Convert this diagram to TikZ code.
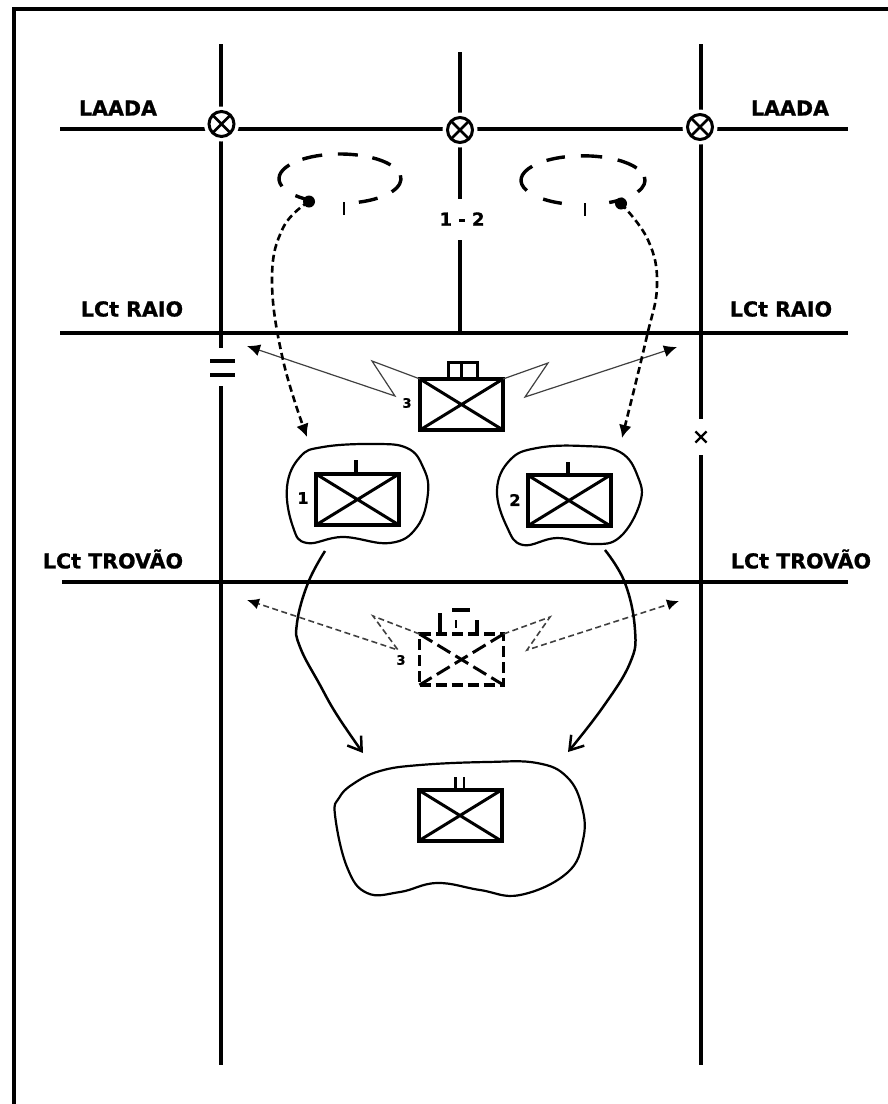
\documentclass[tikz,border=0pt]{standalone}
\usepackage{fontspec}
\setmainfont{DejaVu Sans}[BoldFeatures={FakeBold=0.9}]
\usetikzlibrary{arrows.meta,shapes.geometric,shapes.misc}
\tikzset{
  axis/.style={line width=3.8pt,black},
  halo/.style={circle,fill=white,minimum size=35pt,inner sep=0pt,outer sep=0pt},
  lim/.style={circle,draw,line width=3pt,minimum size=25pt,inner sep=0pt,outer sep=0pt,
    path picture={\draw[line width=2.8pt] (path picture bounding box.north west)--(path picture bounding box.south east)
      (path picture bounding box.north east)--(path picture bounding box.south west);}},
  lab/.style={font=\bfseries\fontsize{20.6}{20.6}\selectfont,inner sep=0pt},
  num/.style={font=\bfseries\fontsize{16}{16}\selectfont,inner sep=0pt},
  unitbox/.style={rectangle,draw,line width=4pt,minimum width=83pt,minimum height=51pt,inner sep=0pt,outer sep=0pt,
    path picture={\draw[line width=3pt] (path picture bounding box.north west)--(path picture bounding box.south east)
      (path picture bounding box.north east)--(path picture bounding box.south west);}},
  ghostbox/.style={rectangle,draw,line width=3.4pt,dash pattern=on 11pt off 5pt,minimum width=84pt,minimum height=51pt,inner sep=0pt,outer sep=0pt},
  ghostdiag/.style={line width=3pt,dash pattern=on 15pt off 6pt},
  blob/.style={line width=2.2pt},
  zone/.style={line width=3.4pt},
  dot/.style={circle,fill,inner sep=0pt,minimum size=12pt},
  tick/.style={line width=2.4pt},
  move/.style={line width=2.6pt,dash pattern=on 7pt off 4pt,-{Latex[length=13pt,width=13pt]}},
  bolt/.style={line width=1.2pt,black!75,-{Latex[length=13pt,width=12pt,black]}},
  ghostbolt/.style={line width=1.6pt,black!75,dash pattern=on 6pt off 3.5pt,-{Latex[length=12pt,width=11pt,black]}},
  advance/.style={line width=2.5pt,-{Straight Barb[length=13pt,width=17pt,line width=2.5pt]}},
}
\begin{document}
\begin{tikzpicture}[x=1pt,y=-1pt]
\useasboundingbox (0,0) rectangle (888,1104);
\draw[line width=4pt] (888,9)--(14,9)--(14,1104);

\coordinate (a1) at (221,44);
\coordinate (a2) at (221,348);
\coordinate (a3) at (221,386);
\coordinate (a4) at (221,1065);
\coordinate (b1) at (701,44);
\coordinate (b2) at (701,419);
\coordinate (b3) at (701,455);
\coordinate (b4) at (701,1065);
\coordinate (c1) at (460,52);
\coordinate (c2) at (460,199);
\coordinate (c3) at (460,240);
\coordinate (c4) at (460,332);
\coordinate (l1) at (60,129);
\coordinate (l2) at (848,129);
\coordinate (r1) at (60,333);
\coordinate (r2) at (848,333);
\coordinate (t1) at (62,582);
\coordinate (t2) at (848,582);

\draw[axis] (a1)--(a2) (a3)--(a4);
\draw[axis] (b1)--(b2) (b3)--(b4);
\draw[axis] (c1)--(c2) (c3)--(c4);
\draw[axis] (l1)--(l2);
\draw[axis] (r1)--(r2);
\draw[axis] (t1)--(t2);

% limit points
\node[halo] (h1) at (221.5,124) {};
\node[halo] (h2) at (460,130) {};
\node[halo] (h3) at (700,127) {};
\node[lim] (p1) at (h1) {};
\node[lim] (p2) at (h2) {};
\node[lim] (p3) at (h3) {};

% boundary breaks
\coordinate (e1) at (210,361);
\coordinate (e2) at (235,361);
\coordinate (e3) at (210,375);
\coordinate (e4) at (235,375);
\draw[line width=3.6pt] (e1)--(e2) (e3)--(e4);
\node[cross out,draw,line width=2.2pt,minimum size=9pt,inner sep=0pt] (xmark) at (701,437) {};

% labels
\node[lab] (la1) at (118,108) {LAADA};
\node[lab] (la2) at (790,108) {LAADA};
\node[lab] (lr1) at (132,309) {LCt RAIO};
\node[lab] (lr2) at (781,309) {LCt RAIO};
\node[lab] (lt1) at (113,559) {LCt TROVÃO};
\node[lab] (lt2) at (801,559) {LCt TROVÃO};
\node[font=\bfseries\fontsize{18}{18}\selectfont,inner sep=0pt] (n12) at (462,219) {1 - 2};

% assembly areas (dashed ellipses)
\foreach \a/\b in {146/198,128/107,92/73,58/34,8/-32,-52/-72,-120/-137}
  \draw[zone] ({340+61*cos(\a)},{178.7-24.7*sin(\a)})
    arc[start angle=-\a,end angle=-\b,x radius=61,y radius=24.7];
\foreach \a/\b in {145/205,230/250,126/107,92/72,56/30,8/-28,-65/-50}
  \draw[zone] ({583+62*cos(\a)},{180.3-24.5*sin(\a)})
    arc[start angle=-\a,end angle=-\b,x radius=62,y radius=24.5];
\node[dot] (d1) at (309,201.5) {};
\node[dot] (d2) at (621,203.5) {};
\coordinate (ti1) at (344,202);
\coordinate (ti2) at (344,215);
\coordinate (ti3) at (585,203);
\coordinate (ti4) at (585,216);
\draw[tick] (ti1)--(ti2) (ti3)--(ti4);

% unit 3
\node[unitbox] (u3) at (461.5,404.5) {};
\coordinate (u3a) at (448,377);
\coordinate (u3b) at (477,377);
\draw[line width=3pt] (u3a)--(448,362.5)--(477,362.5)--(u3b) (u3.north)--(461.5,364);

% unit 1, 2
\node[unitbox] (u1) at (357.5,499.5) {};
\node[unitbox] (u2) at (569,500.5) {};
\coordinate (u1t) at (356,460);
\coordinate (u2t) at (568,462);
\draw[line width=3.2pt] (u1t)--(u1.north-|u1t) (u2t)--(u2.north-|u2t);
\node[num] (n1) at (303,498) {1};
\node[num] (n2) at (515,500) {2};
\node[num,font=\bfseries\fontsize{13}{13}\selectfont] (n3) at (407,403) {3};

\draw[blob] plot[smooth cycle,tension=.7] coordinates {(287,487) (300,457) (323,447) (373,444) (407,448) (423,467) (428,493) (417,527) (390,543) (343,537) (307,543) (293,527)};
\draw[blob] plot[smooth cycle,tension=.7] coordinates {(497,490) (510,460) (537,448) (583,446) (620,452) (638,477) (640,503) (620,537) (593,544) (557,538) (523,545) (507,527)};

% ghost unit 3
\node[ghostbox] (g3) at (461.5,659.5) {};
\draw[ghostdiag] (g3.north west)--(g3.south east);
\draw[ghostdiag] (g3.north east)--(g3.south west);
\coordinate (g1) at (440,632);
\coordinate (g2) at (477,632);
\coordinate (g3a) at (456,620);
\coordinate (g3b) at (456,628);
\coordinate (g4a) at (452,610);
\coordinate (g4b) at (470,610);
\draw[line width=3.2pt] (g1)--(440,613) (g2)--(477,620) (g4a)--(g4b);
\draw[line width=2pt] (g3a)--(g3b);
\node[num,font=\bfseries\fontsize{13}{13}\selectfont] (n3b) at (401,660) {3};

% final unit
\node[unitbox] (u4) at (460,815.5) {};
\coordinate (u4a) at (455.5,777);
\coordinate (u4b) at (464,777);
\draw[line width=2.6pt] (u4a)--(u4.north-|u4a) (u4b)--(u4.north-|u4b);
\draw[blob] plot[smooth cycle,tension=.7] coordinates {(335,815) (339,798) (353,784) (380,771) (420,765) (487,762) (537,763) (567,777) (582,807) (583,840) (567,873) (520,895) (480,890) (437,883) (400,892) (367,893) (347,867)};

% fires (lightning arrows)
\coordinate (fl) at (247,346);
\coordinate (fr) at (677,347);
\draw[bolt] (u3.north west)--(372,361)--(395,396)--(fl);
\draw[bolt] (u3.north east)--(548,363)--(525,397)--(fr);
\coordinate (gl) at (247,600);
\coordinate (gr) at (679,601);
\draw[ghostbolt] (g3.north west)--(373,616)--(398,650)--(gl);
\draw[ghostbolt] (g3.north east)--(550,617)--(527,650)--(gr);

% dashed moves
\coordinate (m1) at (307,437);
\coordinate (m2) at (622,438);
\draw[move] plot[smooth,tension=.7] coordinates {(d1) (283,228) (272,280) (283,360) (m1)};
\draw[move] plot[smooth,tension=.7] coordinates {(d2) (648,240) (657,285) (646,340) (m2)};

% solid advances
\coordinate (s1) at (325,551);
\coordinate (s2) at (363,753);
\coordinate (s3) at (605,550);
\coordinate (s4) at (568,752);
\draw[advance] plot[smooth,tension=.7] coordinates {(s1) (308,583) (297,623) (300,647) (320,685) (337,715) (s2)};
\draw[advance] plot[smooth,tension=.7] coordinates {(s3) (625,583) (635,630) (630,663) (603,707) (s4)};
\end{tikzpicture}
\end{document}
